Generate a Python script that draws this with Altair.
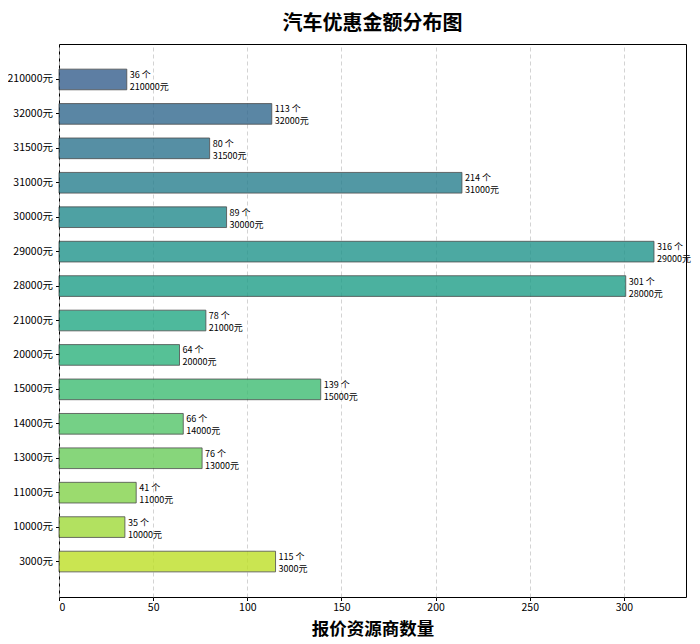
import altair as alt
import pandas as pd

categories = ["210000元", "32000元", "31500元", "31000元", "30000元", "29000元", "28000元",
              "21000元", "20000元", "15000元", "14000元", "13000元", "11000元", "10000元", "3000元"]
counts = [36, 113, 80, 214, 89, 316, 301, 78, 64, 139, 66, 76, 41, 35, 115]

# viridis anchors (0.30 .. 0.90 in 0.05 steps) used for bar colours
anchors = ["#355f8d", "#306a8e", "#2a788e", "#25858e", "#21918c", "#1e9c89", "#22a884",
           "#2fb47c", "#44bf70", "#5ec962", "#7ad151", "#9bd93c", "#bddf26"]


def hex2rgb(h):
    return [int(h[i:i + 2], 16) for i in (1, 3, 5)]


def viridis(t):
    pos = (t - 0.30) / 0.05
    i = min(int(pos), len(anchors) - 2)
    f = pos - i
    a, b = hex2rgb(anchors[i]), hex2rgb(anchors[i + 1])
    c = [round(a[k] + (b[k] - a[k]) * f) for k in range(3)]
    return "#%02x%02x%02x" % tuple(c)


n = len(categories)
colors = [viridis(0.30 + 0.60 * i / (n - 1)) for i in range(n)]

df = pd.DataFrame({
    "cat": categories,
    "count": counts,
    "line1": [f"{c} 个" for c in counts],
    "line2": categories,
})

font = "Noto Sans CJK SC"

y_enc = alt.Y("cat:N", sort=categories, title=None,
              scale=alt.Scale(paddingInner=0.4, paddingOuter=0.73),
              axis=alt.Axis(labelFontSize=10.5, labelColor="black", tickColor="black",
                            tickSize=3.5, domain=False, labelPadding=3, labelFont=font))
x_enc = alt.X("count:Q", title="报价资源商数量",
              scale=alt.Scale(domain=[0, 333], nice=False, zero=True),
              axis=alt.Axis(values=[0, 50, 100, 150, 200, 250, 300], labelFontSize=10.5,
                            labelColor="black", tickColor="black", tickSize=3.5,
                            domain=False, grid=True, gridDash=[4, 3], gridColor="#c8c8c8",
                            gridWidth=0.8, titleFontSize=17.5, titleFontWeight="bold",
                            titleColor="black", titlePadding=7, labelFont=font,
                            titleFont=font))

bars = alt.Chart(df).mark_bar(opacity=0.8, stroke="#222222", strokeWidth=1,
                              strokeOpacity=0.8).encode(
    x=x_enc,
    y=y_enc,
    color=alt.Color("cat:N", scale=alt.Scale(domain=categories, range=colors), legend=None),
)

text1 = alt.Chart(df).mark_text(align="left", baseline="alphabetic", dx=3, dy=-1.5, fontSize=9,
                                color="black", font=font).encode(
    x="count:Q",
    y=alt.Y("cat:N", sort=categories),
    text="line1:N",
)
text2 = alt.Chart(df).mark_text(align="left", baseline="alphabetic", dx=3, dy=10.5, fontSize=9,
                                color="black", font=font).encode(
    x="count:Q",
    y=alt.Y("cat:N", sort=categories),
    text="line2:N",
)

chart = (bars + text1 + text2).properties(
    width=627,
    height=553,
    title=alt.TitleParams("汽车优惠金额分布图", fontSize=20, fontWeight="bold", font=font,
                          anchor="middle", color="black", offset=10),
    autosize=alt.AutoSizeParams(type="none"),
    padding={"left": 51, "top": 36, "right": 6, "bottom": 45},
).configure_view(stroke="black", strokeWidth=1)

chart.save("out.html", embed_options={"renderer": "svg", "actions": False})
